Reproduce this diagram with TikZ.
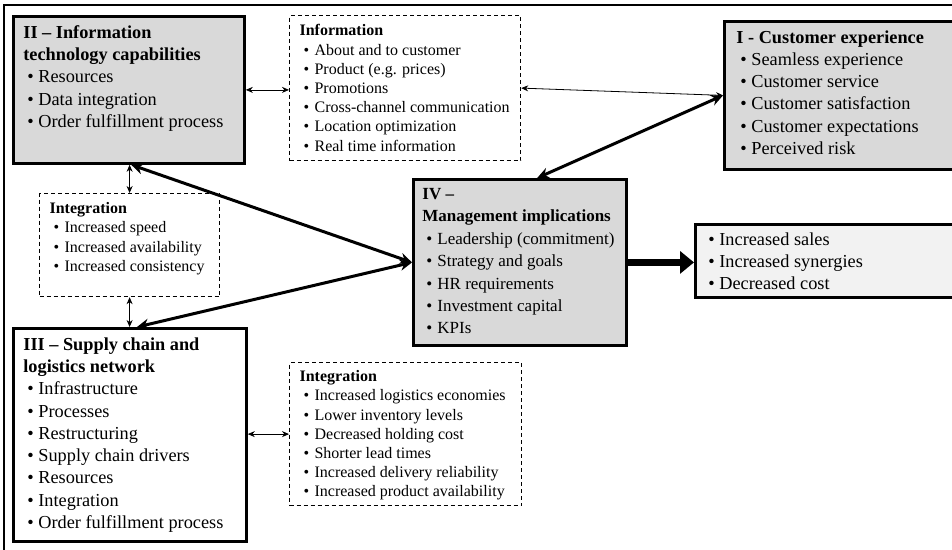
\documentclass[tikz,border=0pt]{standalone}
\usepackage{fontspec}
\setmainfont{Liberation Serif}
\usetikzlibrary{arrows.meta,calc}
\definecolor{boxgray}{RGB}{217,217,217}
\definecolor{outgray}{RGB}{242,242,242}
\newcommand\bul{\makebox[15pt][l]{\hspace{4pt}\textbullet}}
\newcommand\itm[1]{\mbox{\bul #1}\par}
\newcommand\hdr[1]{\mbox{\textbf{#1}}\par}
\newcommand\cnt[3]{\parbox[c][\dimexpr #2pt-18pt\relax][t]{\dimexpr #1pt-20pt\relax}{\raggedright #3}}
\newcommand\bigtxt{\fontsize{18.3}{22.3}\selectfont}
\newcommand\midtxt{\fontsize{17}{22.4}\selectfont}
\newcommand\smltxt{\fontsize{16}{19.2}\selectfont}
\tikzset{
  x=1pt, y=-1pt,
  solidbox/.style={draw, line width=2.8pt, fill=boxgray, anchor=north west, inner xsep=10pt, inner ysep=9pt},
  dashbox/.style={draw, line width=1.2pt, dash pattern=on 4pt off 3pt, fill=white, anchor=north west, inner xsep=10pt, inner ysep=9pt},
  thinarr/.style={line width=0.8pt, {Stealth[length=7pt,width=6pt]}-{Stealth[length=7pt,width=6pt]}},
  thickarr/.style={line width=3pt, {Stealth[length=12pt,width=11pt]}-{Stealth[length=12pt,width=11pt]}},
  bigarr/.style={line width=7pt, -{Triangle[length=14pt,width=22pt]}},
}
\begin{document}
\begin{tikzpicture}
\useasboundingbox (0,0) rectangle (952,549);
\fill[white] (0,0) rectangle (952,549);
\clip (0,0) rectangle (952,549);
\draw[line width=2.2pt] (4,560) -- (4,5) -- (960,5);

\node[solidbox] (II) at (12,15) {\cnt{231}{147}{\bigtxt\hdr{II -- Information}\hdr{technology capabilities}
\itm{Resources}\itm{Data integration}\itm{Order fulfillment process}}};

\node[dashbox] (info) at (289,15) {\cnt{231}{145}{\smltxt\hdr{Information}
\itm{About and to customer}\itm{Product (e.g. prices)}\itm{Promotions}\itm{Cross-channel communication}\itm{Location optimization}\itm{Real time information}}};

\node[solidbox, inner xsep=12pt] (I) at (723,20) {\cnt{245}{148}{\bigtxt\hdr{I - Customer experience}
\itm{Seamless experience}\itm{Customer service}\itm{Customer satisfaction}\itm{Customer expectations}\itm{Perceived risk}}};

\node[dashbox] (integL) at (39,193) {\cnt{180}{103}{\smltxt\hdr{Integration}
\itm{Increased speed}\itm{Increased availability}\itm{Increased consistency}}};

\node[solidbox, inner xsep=9pt] (IV) at (412,178) {\cnt{215}{166}{\midtxt\hdr{IV --}\hdr{Management implications}
\itm{Leadership (commitment)}\itm{Strategy and goals}\itm{HR requirements}\itm{Investment capital}\itm{KPIs}}};

\node[solidbox, fill=outgray, inner xsep=9pt, inner ysep=8pt] (out) at (694,223) {\cnt{270}{75}{\bigtxt
\itm{Increased sales}\itm{Increased synergies}\itm{Decreased cost}}};

\node[solidbox, fill=white] (III) at (12,327) {\cnt{233}{213}{\bigtxt\hdr{III -- Supply chain and}\hdr{logistics network}
\itm{Infrastructure}\itm{Processes}\itm{Restructuring}\itm{Supply chain drivers}\itm{Resources}\itm{Integration}\itm{Order fulfillment process}}};

\node[dashbox, inner ysep=8pt] (integB) at (289,362) {\cnt{232}{145}{\smltxt\hdr{Integration}
\itm{Increased logistics economies}\itm{Lower inventory levels}\itm{Decreased holding cost}\itm{Shorter lead times}\itm{Increased delivery reliability}\itm{Increased product availability}}};

\draw[thinarr] (II.east) -- (II.east -| info.west);
\draw[thinarr] (info.east) -- (I.west);
\draw[thickarr] (I.west) -- ($(IV.north west)!0.58!(IV.north east)$);
\draw[thickarr] ($(II.south west)!0.51!(II.south east)$) -- (IV.west);
\draw[thickarr] ($(III.north west)!0.53!(III.north east)$) -- (IV.west);
\draw[thinarr] (integL.north |- II.south) -- (integL.north);
\draw[thinarr] (integL.south) -- (integL.south |- III.north);
\draw[thinarr] (integB.west -| III.east) -- (integB.west);
\draw[bigarr] (IV.east) -- (IV.east -| out.west);
\end{tikzpicture}
\end{document}
